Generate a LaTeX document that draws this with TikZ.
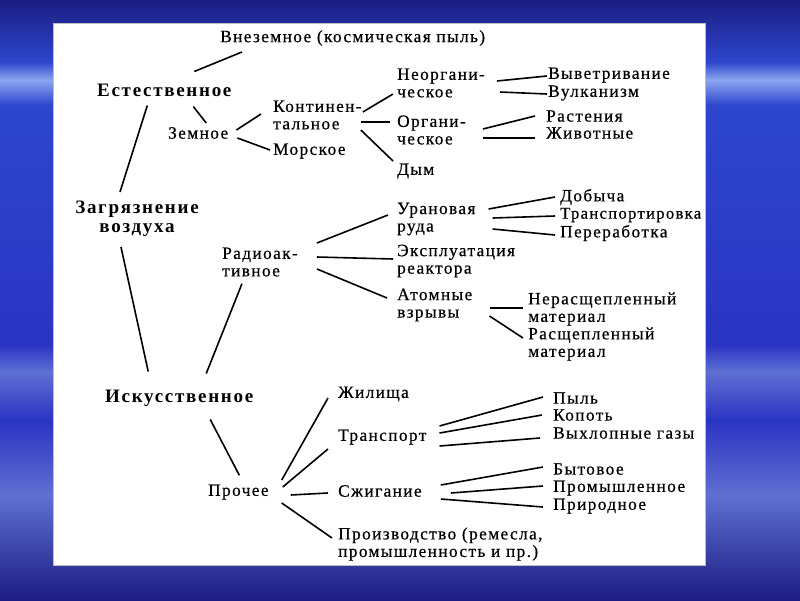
\documentclass[tikz,border=0pt]{standalone}
\usepackage{fontspec}
\setmainfont{Liberation Serif}
\newfontfamily\labfont[LetterSpace=8, FakeBold=0.5]{Liberation Serif}
\newfontfamily\hdfont[LetterSpace=9]{Liberation Serif}
\usepackage{xcolor}
\usepackage{tikz}
\usetikzlibrary{calc, positioning, backgrounds}
\definecolor{skynavy}{RGB}{28,28,130}
\definecolor{skyblue}{RGB}{45,70,205}
\definecolor{skylight}{RGB}{140,165,238}
\definecolor{skymid}{RGB}{42,52,195}
\definecolor{skysoft}{RGB}{95,112,210}

\begin{document}
\begin{tikzpicture}[
  x=1pt, y=-1pt,
  lab/.style={anchor=west, inner sep=0pt, align=left,
              font=\labfont\fontsize{17.3}{17.5}\selectfont},
  hd/.style={anchor=west, inner sep=0pt, align=center,
             font=\hdfont\bfseries\fontsize{19}{19}\selectfont},
  ln/.style={line width=1.6pt, black}
]
\useasboundingbox (0,0) rectangle (800,600);

% ---------- sky background + white sheet ----------
\shade[top color=skynavy, bottom color=skyblue] (0,0) rectangle (800,62);
\shade[top color=skyblue, bottom color=skylight] (0,62) rectangle (800,80);
\shade[top color=skylight, bottom color=skyblue] (0,80) rectangle (800,105);
\shade[top color=skyblue, bottom color=skymid] (0,105) rectangle (800,345);
\shade[top color=skymid, bottom color=skysoft] (0,345) rectangle (800,372);
\shade[top color=skysoft, bottom color=skymid] (0,372) rectangle (800,420);
\shade[top color=skymid, bottom color=skysoft] (0,420) rectangle (800,495);
\shade[top color=skysoft, bottom color=skynavy] (0,495) rectangle (800,600);
\fill[white, draw=black!25, line width=0.8pt] (53,23) rectangle (705,565);

% ---------- natural branch ----------
\node[lab] (vnez) at (220,38) {Внеземное (космическая пыль)};
\node[hd] (est) at (97,90) {Естественное};
\node[lab] (zemn) at (168,133) {Земное};
\node[lab] (kont) at (273,115) {Континен-\\тальное};
\node[lab] (mors) at (273,151) {Морское};
\node[lab] (neorg) at (397,83) {Неоргани-\\ческое};
\node[lab] (org) at (397,130) {Органи-\\ческое};
\node[lab] (dym) at (397,171) {Дым};
\node[lab] (vyvet) at (548,75) {Выветривание};
\node[lab] (vulk) at (548,93) {Вулканизм};
\node[lab] (rast) at (546,116) {Растения};
\node[lab] (zhiv) at (546,133) {Животные};

% ---------- root ----------
\node[hd, anchor=center] (zagr) at (137,219) {Загрязнение\\воздуха};

% ---------- radioactive ----------
\node[lab] (radio) at (222,262) {Радиоак-\\тивное};
\node[lab] (uran) at (397,219) {Урановая\\руда};
\node[lab] (dob) at (560,197) {Добыча};
\node[lab, font=\labfont\fontsize{16.6}{17.5}\selectfont] (transpr) at (560,215) {Транспортировка};
\node[lab] (perer) at (560,233) {Переработка};
\node[lab] (expl) at (397,261) {Эксплуатация\\реактора};
\node[lab] (atom) at (397,305) {Атомные\\взрывы};
\node[lab] (neras) at (528,309) {Нерасщепленный\\материал};
\node[lab] (ras) at (528,344) {Расщепленный\\материал};

% ---------- artificial branch ----------
\node[hd] (isk) at (105,398) {Искусственное};
\node[lab] (proch) at (208,492) {Прочее};
\node[lab] (zhil) at (338,394) {Жилища};
\node[lab] (transp) at (338,437) {Транспорт};
\node[lab] (szhig) at (338,491) {Сжигание};
\node[lab] (proizv) at (338,544) {Производство (ремесла,\\промышленность и пр.)};
\node[lab] (pyl) at (553,398) {Пыль};
\node[lab] (kopot) at (553,415) {Копоть};
\node[lab] (vykhl) at (553,433) {Выхлопные газы};
\node[lab] (byt) at (553,469) {Бытовое};
\node[lab] (prom) at (553,488) {Промышленное};
\node[lab] (prir) at (553,506) {Природное};

% ---------- connectors ----------
\draw[ln] ($(est.north)+(30,-12)$) -- ($(vnez.west)+(22,14)$);
\draw[ln] ($(est.south)+(-17,9)$) -- ($(zagr.north)+(-17,-9)$);
\draw[ln] ($(est.south)+(29,10)$) -- ($(zemn.north)+(8,-4)$);
\draw[ln] ($(zemn.east)+(8,-3)$) -- ($(kont.west)+(-12,-1)$);
\draw[ln] ($(zemn.east)+(9,5)$) -- ($(mors.west)+(-3,-1)$);
\draw[ln] ($(kont.east)+(1,-3)$) -- ($(neorg.west)+(-4,11)$);
\draw[ln] ($(kont.east)+(-1,7)$) -- ($(org.west)+(-7,-8)$);
\draw[ln] ($(kont.east)+(-1,15)$) -- ($(dym.west)+(-4,-10)$);
\draw[ln] ($(neorg.east)+(12,-2)$) -- ($(vyvet.west)+(-1,1)$);
\draw[ln] ($(neorg.east)+(15,9)$) -- ($(vulk.west)+(-1,1)$);
\draw[ln] ($(org.east)+(17,-1)$) -- ($(rast.west)+(-11,0)$);
\draw[ln] ($(org.east)+(17,8)$) -- ($(zhiv.west)+(-11,5)$);

\draw[ln] ($(zagr.south)+(-16,10)$) -- ($(isk.north)+(-31,-18)$);
\draw[ln] ($(radio.east)+(19,-19)$) -- ($(uran.west)+(-9,-4)$);
\draw[ln] ($(radio.east)+(19,-5)$) -- ($(expl.west)+(-4,-2)$);
\draw[ln] ($(radio.east)+(19,7)$) -- ($(atom.west)+(-10,-7)$);
\draw[ln] ($(radio.south)+(-18,7)$) -- ($(isk.north)+(27,-16)$);
\draw[ln] ($(uran.east)+(13,-10)$) -- ($(dob.west)+(-5,0)$);
\draw[ln] ($(uran.east)+(17,-1)$) -- ($(transpr.west)+(-5,1)$);
\draw[ln] ($(uran.east)+(17,10)$) -- ($(perer.west)+(-5,2)$);
\draw[ln] ($(atom.east)+(17,3)$) -- ($(neras.west)+(-5,-1)$);
\draw[ln] ($(atom.east)+(17,11)$) -- ($(ras.west)+(-5,-6)$);

\draw[ln] ($(isk.south)+(31,13)$) -- ($(proch.north)+(1,-9)$);
\draw[ln] ($(proch.east)+(13,-12)$) -- ($(zhil.west)+(-10,4)$);
\draw[ln] ($(proch.east)+(14,-5)$) -- ($(transp.west)+(-10,12)$);
\draw[ln] ($(proch.east)+(22,3)$) -- ($(szhig.west)+(-10,2)$);
\draw[ln] ($(proch.east)+(13,11)$) -- ($(proizv.west)+(-6,-6)$);
\draw[ln] ($(transp.east)+(13,-11)$) -- ($(pyl.west)+(-10,-1)$);
\draw[ln] ($(transp.east)+(13,-4)$) -- ($(kopot.west)+(-11,0)$);
\draw[ln] ($(transp.east)+(13,9)$) -- ($(vykhl.west)+(-13,5)$);
\draw[ln] ($(szhig.east)+(19,-6)$) -- ($(byt.west)+(-10,-2)$);
\draw[ln] ($(szhig.east)+(29,2)$) -- ($(prom.west)+(-10,-2)$);
\draw[ln] ($(szhig.east)+(19,8)$) -- ($(prir.west)+(-10,1)$);

\end{tikzpicture}
\end{document}
